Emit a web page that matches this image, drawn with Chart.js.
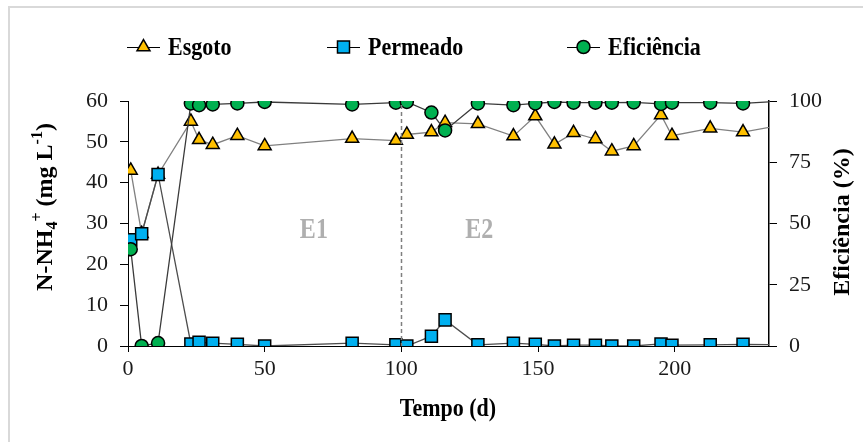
<!DOCTYPE html>
<html>
<head>
<meta charset="utf-8">
<script src="https://cdn.jsdelivr.net/npm/chart.js@4/dist/chart.umd.min.js"></script>
<style>
  html, body { margin: 0; padding: 0; background: #fff; }
  #wrap { width: 863px; height: 442px; position: relative; }
</style>
</head>
<body>
<div id="wrap"><canvas id="myChart" width="863" height="442"></canvas></div>
<script>

// tempo (d)
const tempo = [1, 5, 11, 23, 26, 31, 40, 50, 82, 98, 102, 111, 116, 128, 141, 149, 156, 163, 171, 177, 185, 195, 199, 213, 225, 240];

// N-NH4+ (mg/L)
const esgoto = [43, 27.5, 42, 55, 50.5, 49.3, 51.5, 49, 50.8, 50.3, 51.8, 52.4, 54.7, 54.4, 51.4, 56.3, 49.4, 52.2, 50.7, 47.7, 49, 56.6, 51.5, 53.3, 52.4, 54.2];
const permeado = [26, 27.5, 42, 0.5, 0.9, 0.7, 0.4, 0, 0.7, 0.3, 0, 2.4, 6.4, 0.3, 0.7, 0.4, 0, 0.2, 0.2, 0, 0, 0.5, 0.2, 0.3, 0.4, 0.3];

// eficiencia (%)
const eficiencia = [39.5, 0, 1.2, 99, 98.3, 98.6, 99, 99.6, 98.6, 99.3, 99.6, 95.3, 88, 99, 98.3, 99, 99.6, 99.3, 99.3, 99.3, 99.4, 98.8, 99.3, 99.3, 99, 100];

const xTicks = [0, 50, 100, 150, 200];
const fases = [
    { label: 'E1', t: 68, v: 28.4 },
    { label: 'E2', t: 128.5, v: 28.4 }
];
const trocaFase = 100;

const serif = "'Liberation Serif', 'Times New Roman', serif";

function pts(ys) {
    return tempo.map((t, i) => ({ x: t, y: ys[i] }));
}

// texto um pouco esticado na vertical, como no original
function tallText(ctx, txt, x, y, sy) {
    ctx.save();
    ctx.translate(x, y);
    ctx.scale(1, sy);
    ctx.fillText(txt, 0, 0);
    ctx.restore();
}

// moldura, titulos, legenda, E1/E2
const extras = {
    id: 'extras',
    beforeDraw(chart) {
        const ctx = chart.ctx;
        ctx.save();
        ctx.strokeStyle = '#d9d9d9';
        ctx.lineWidth = 2;
        ctx.beginPath();
        ctx.moveTo(9, 460);
        ctx.lineTo(9, 7);
        ctx.lineTo(900, 7);
        ctx.stroke();
        ctx.restore();
    },
    afterDatasetsDraw(chart) {
        const ctx = chart.ctx;
        const xs = chart.scales.x, ys = chart.scales.y;
        const area = chart.chartArea;
        ctx.save();

        // linha tracejada entre fases
        const xf = Math.round(xs.getPixelForValue(trocaFase)) + 0.5;
        ctx.strokeStyle = '#7f7f7f';
        ctx.lineWidth = 1.5;
        ctx.setLineDash([4, 3]);
        ctx.beginPath();
        ctx.moveTo(xf, area.top + 4);
        ctx.lineTo(xf, area.bottom);
        ctx.stroke();
        ctx.setLineDash([]);

        ctx.fillStyle = '#afafaf';
        ctx.font = 'bold 24px ' + serif;
        ctx.textAlign = 'center';
        ctx.textBaseline = 'middle';
        fases.forEach(f => {
            tallText(ctx, f.label, xs.getPixelForValue(f.t), ys.getPixelForValue(f.v), 1.25);
        });
        ctx.restore();
    },
    afterDraw(chart) {
        const ctx = chart.ctx;
        ctx.save();
        ctx.fillStyle = '#000';

        // titulo eixo x
        ctx.font = 'bold 22px ' + serif;
        ctx.textAlign = 'center';
        ctx.textBaseline = 'middle';
        tallText(ctx, 'Tempo (d)', 448, 409, 1.15);

        // titulo eixo y direito
        ctx.save();
        ctx.translate(843, 222);
        ctx.rotate(-Math.PI / 2);
        ctx.font = 'bold 24px ' + serif;
        ctx.fillText('Eficiência (%)', 0, 0);
        ctx.restore();

        // titulo eixo y esquerdo com sub/sobrescrito
        const parts = [
            { t: 'N-NH', s: 24, dy: 0 },
            { t: '4', s: 16, dy: 5 },
            { t: '+', s: 16, dy: -10 },
            { t: ' (mg L', s: 24, dy: 0 },
            { t: '-1', s: 16, dy: -10 },
            { t: ')', s: 24, dy: 0 }
        ];
        let total = 0;
        parts.forEach(p => {
            ctx.font = 'bold ' + p.s + 'px ' + serif;
            p.w = ctx.measureText(p.t).width;
            total += p.w;
        });
        ctx.save();
        ctx.translate(44, 207);
        ctx.rotate(-Math.PI / 2);
        ctx.textAlign = 'left';
        ctx.textBaseline = 'alphabetic';
        let x = -total / 2;
        parts.forEach(p => {
            ctx.font = 'bold ' + p.s + 'px ' + serif;
            ctx.fillText(p.t, x, 8 + p.dy);
            x += p.w;
        });
        ctx.restore();

        // legenda
        const leg = [127, 327, 567];
        ctx.font = 'bold 22px ' + serif;
        ctx.textAlign = 'left';
        ctx.textBaseline = 'middle';
        chart.data.datasets.forEach((ds, i) => {
            const x0 = leg[i], y0 = 47;
            ctx.strokeStyle = '#000';
            ctx.lineWidth = 1;
            ctx.beginPath();
            ctx.moveTo(x0, y0 + 0.5);
            ctx.lineTo(x0 + 33, y0 + 0.5);
            ctx.stroke();
            ctx.fillStyle = ds.pointBackgroundColor;
            ctx.strokeStyle = ds.pointBorderColor;
            ctx.lineWidth = ds.pointBorderWidth;
            Chart.helpers.drawPoint(ctx, {
                pointStyle: ds.pointStyle,
                radius: ds.pointRadius,
                rotation: 0,
                borderWidth: ds.pointBorderWidth
            }, x0 + 16.5, y0);
            ctx.fillStyle = '#000';
            tallText(ctx, ds.label, x0 + 41, y0 + 1, 1.15);
        });
        ctx.restore();
    }
};

const data = {
    datasets: [{
        label: 'Esgoto',
        data: pts(esgoto),
        yAxisID: 'y',
        order: 3,
        borderColor: '#808080',
        borderWidth: 1.3,
        pointStyle: 'triangle',
        pointRadius: 7.5,
        pointHoverRadius: 7.5,
        pointBackgroundColor: '#ffc000',
        pointBorderColor: '#000',
        pointBorderWidth: 1.5
    }, {
        label: 'Permeado',
        data: pts(permeado),
        yAxisID: 'y',
        order: 2,
        borderColor: '#4d4d4d',
        borderWidth: 1.3,
        pointStyle: 'rect',
        pointRadius: 8.5,
        pointHoverRadius: 8.5,
        pointBackgroundColor: '#00b0f0',
        pointBorderColor: '#000',
        pointBorderWidth: 1.5
    }, {
        label: 'Eficiência',
        data: pts(eficiencia),
        yAxisID: 'y1',
        order: 1,
        borderColor: '#3a3a3a',
        borderWidth: 1.3,
        pointStyle: 'circle',
        pointRadius: 6.5,
        pointHoverRadius: 6.5,
        pointBackgroundColor: '#00b050',
        pointBorderColor: '#000',
        pointBorderWidth: 1.5
    }]
};

const tickFont = { family: serif, size: 22 };

const config = {
    type: 'line',
    data: data,
    options: {
        responsive: false,
        animation: false,
        layout: { padding: { top: 101, left: 0, right: 0, bottom: 0 } },
        plugins: {
            legend: { display: false },
            tooltip: { enabled: false }
        },
        elements: {
            line: { tension: 0 }
        },
        scales: {
            x: {
                type: 'linear',
                min: 0,
                max: 234.5,
                afterFit: s => { s.height = 96; },
                afterBuildTicks: s => { s.ticks = xTicks.map(v => ({ value: v })); },
                ticks: { font: tickFont, color: '#1a1a1a', padding: 4, maxRotation: 0 },
                grid: { drawOnChartArea: false, tickLength: 6, color: '#000' },
                border: { color: '#000', width: 1 }
            },
            y: {
                position: 'left',
                min: 0,
                max: 60,
                afterFit: s => { s.width = 128; },
                ticks: { stepSize: 10, font: tickFont, color: '#1a1a1a', padding: 12 },
                grid: { drawOnChartArea: false, tickLength: 8, color: '#000' },
                border: { color: '#000', width: 1 }
            },
            y1: {
                position: 'right',
                min: 0,
                max: 100,
                afterFit: s => { s.width = 94; },
                ticks: { stepSize: 25, font: tickFont, color: '#1a1a1a', padding: 12 },
                grid: { drawOnChartArea: false, tickLength: 8, color: '#000' },
                border: { color: '#000', width: 1.5, dash: [3, 2] }
            }
        }
    },
    plugins: [extras]
};

const myChart = new Chart(
    document.getElementById('myChart'),
    config
);
</script>
</body>
</html>
